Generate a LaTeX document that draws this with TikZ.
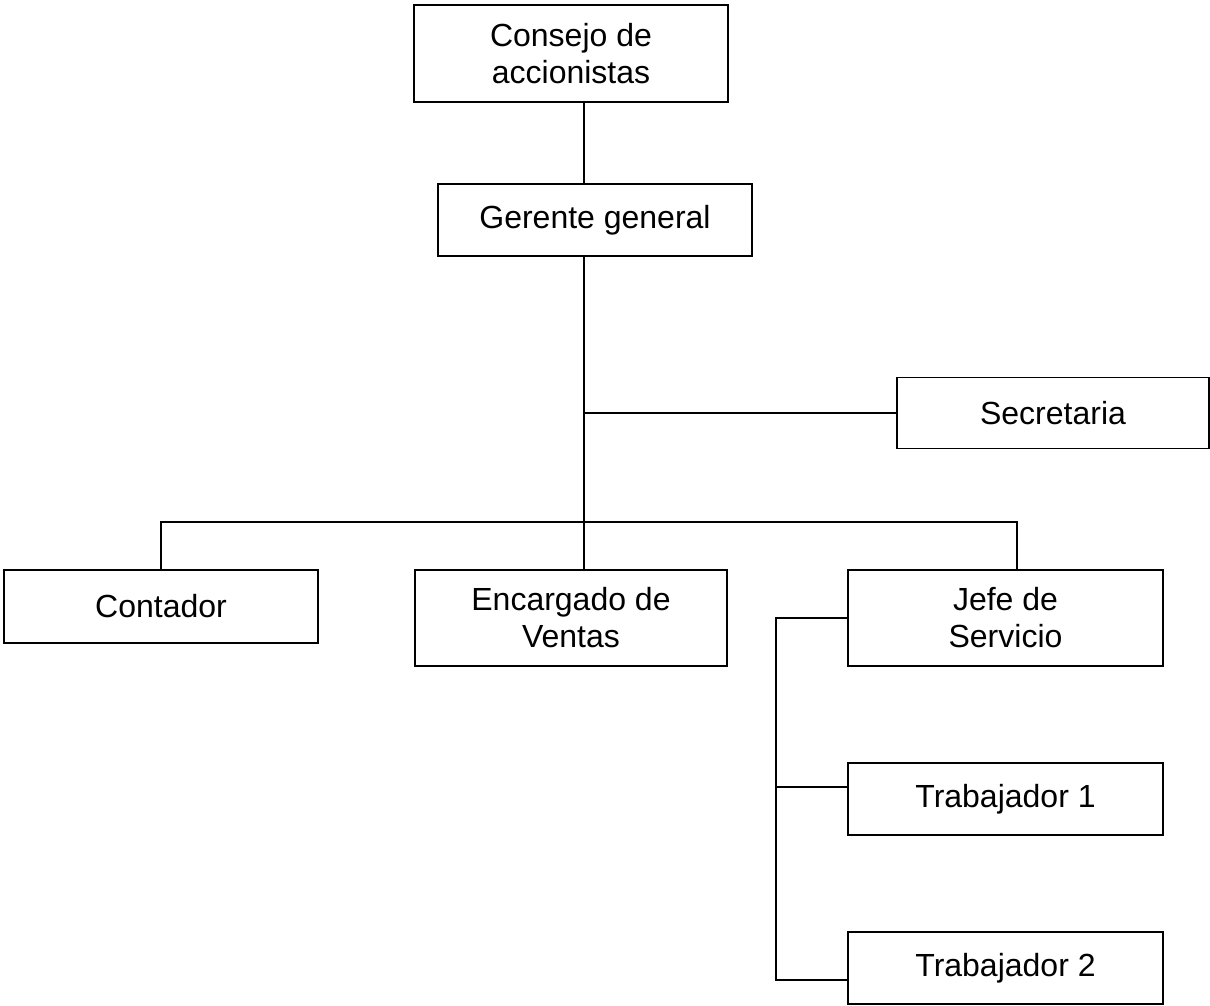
\documentclass[tikz,border=0pt]{standalone}
\usepackage{fontspec}
\setmainfont{Liberation Sans}
\begin{document}
\begin{tikzpicture}[x=1pt,y=-1pt,
  box/.style={draw=black,line width=1.8pt,rectangle,inner sep=0pt,align=center,
    font=\fontsize{32}{37}\selectfont},
  conn/.style={draw=black,line width=1.8pt}]
\useasboundingbox (0,0) rectangle (1210,1005);
\node[box,minimum width=314,minimum height=97] (cons) at (571,53.5) {Consejo de\\accionistas};
\node[box,minimum width=314,minimum height=72] (ger) at (595,220) {Gerente general};
\node[box,minimum width=312,minimum height=71] (sec) at (1053,413) {Secretaria};
\node[box,minimum width=314,minimum height=73] (cont) at (161,606.5) {Contador};
\node[box,minimum width=312,minimum height=96] (enc) at (571,618) {Encargado de\\Ventas};
\node[box,minimum width=315,minimum height=96] (jefe) at (1005.5,618) {Jefe de\\Servicio};
\node[box,minimum width=315,minimum height=72] (t1) at (1005.5,799) {Trabajador 1};
\node[box,minimum width=315,minimum height=72] (t2) at (1005.5,968) {Trabajador 2};
\coordinate (trunk) at (584,0);
\coordinate (bus) at (0,522);
\coordinate (jx) at (1017,0);
\coordinate (side) at (776,0);
\coordinate (jy) at (0,618);
\coordinate (t1y) at (0,787);
\coordinate (t2y) at (0,980);
% Consejo to Gerente
\draw[conn] (cons.south -| trunk) -- (ger.north -| trunk);
% Gerente down to Encargado
\draw[conn] (ger.south -| trunk) -- (enc.north -| trunk);
% Secretaria branch
\draw[conn] (sec.west -| trunk) -- (sec.west);
% Bus
\draw[conn] (cont.north) -- (cont.north |- bus) -- (bus -| jx) -- (jefe.north -| jx);
% Jefe side branch
\draw[conn] (jefe.west |- jy) -- (side |- jy) -- (side |- t2y) -- (t2.west |- t2y);
\draw[conn] (side |- t1y) -- (t1.west |- t1y);
\end{tikzpicture}
\end{document}
